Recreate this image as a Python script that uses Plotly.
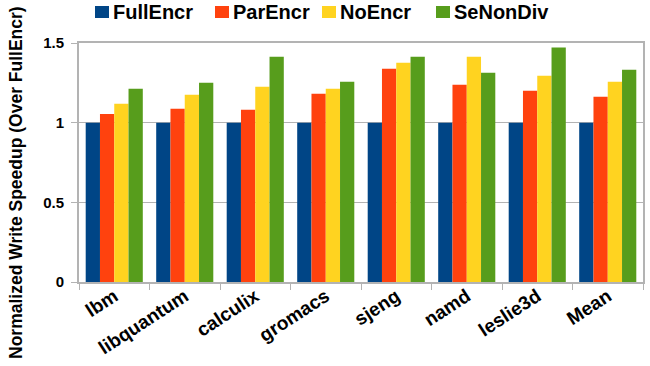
import plotly.graph_objects as go

benchmarks = ["lbm", "libquantum", "calculix", "gromacs", "sjeng", "namd", "leslie3d", "Mean"]
full_encr = [1.0, 1.0, 1.0, 1.0, 1.0, 1.0, 1.0, 1.0]
par_encr = [1.055, 1.087, 1.081, 1.181, 1.339, 1.238, 1.200, 1.162]
no_encr = [1.118, 1.175, 1.225, 1.213, 1.376, 1.414, 1.295, 1.257]
se_non_div = [1.213, 1.250, 1.414, 1.257, 1.414, 1.313, 1.471, 1.332]

series_names = ["FullEncr", "ParEncr", "NoEncr", "SeNonDiv"]
series_values = [full_encr, par_encr, no_encr, se_non_div]
series_colors = ["#004586", "#ff420e", "#ffd320", "#579d1c"]

FONT = "Liberation Sans, Arial, sans-serif"
W, H = 650, 366
ML, MR, MT, MB = 79, 7, 43, 84
PW, PH = W - ML - MR, H - MT - MB


def px_x(px):
    """Convert a pixel column to paper x."""
    return (px - ML) / PW


def px_y(py):
    """Convert a pixel row to paper y."""
    return (H - MB - py) / PH


fig = go.Figure()
for name, vals, color in zip(series_names, series_values, series_colors):
    fig.add_trace(go.Bar(
        name=name, x=benchmarks, y=vals, showlegend=False,
        marker=dict(color=color, line=dict(width=0)),
    ))

# Legend row across the top: a coloured key square followed by the series name
legend_text_left = [113, 233, 340, 454]
shapes, annotations = [], []
for name, color, tx in zip(series_names, series_colors, legend_text_left):
    shapes.append(dict(
        type="rect", xref="paper", yref="paper",
        x0=px_x(tx - 18), x1=px_x(tx - 4), y0=px_y(18), y1=px_y(6),
        fillcolor=color, line=dict(width=0),
    ))
    annotations.append(dict(
        text=name, xref="paper", yref="paper", x=px_x(tx - 2), y=px_y(12),
        xanchor="left", yanchor="middle", showarrow=False,
        font=dict(size=20, family=FONT, weight="bold", color="black"),
    ))

annotations.append(dict(
    text="Normalized Write Speedup (Over FullEncr)", textangle=-90,
    xref="paper", yref="paper", x=px_x(16), y=px_y(183),
    xanchor="center", yanchor="middle", showarrow=False,
    font=dict(size=17.5, family=FONT, weight="bold", color="black"),
))

fig.update_layout(
    width=W, height=H,
    margin=dict(l=ML, r=MR, t=MT, b=MB, autoexpand=False),
    barmode="group", bargap=0.19, bargroupgap=0,
    plot_bgcolor="white", paper_bgcolor="white",
    font=dict(family=FONT, color="black"),
    showlegend=False,
    shapes=shapes, annotations=annotations,
)

fig.update_xaxes(
    tickangle=-33,
    tickfont=dict(size=19, family=FONT, weight="bold"),
    ticks="outside", tickson="boundaries", ticklen=6, tickcolor="#b3b3b3",
    ticklabelstandoff=-6,
    showline=True, linecolor="#b3b3b3", linewidth=2, mirror=True,
    showgrid=False,
)
fig.update_yaxes(
    range=[0, 1.5], tickvals=[0, 0.5, 1, 1.5], ticktext=["0", "0.5", "1", "1.5"],
    tickfont=dict(size=15, family=FONT, weight="bold"),
    ticks="outside", ticklen=6, tickcolor="#b3b3b3", ticklabelstandoff=4,
    showline=True, linecolor="#b3b3b3", linewidth=2, mirror=True,
    showgrid=True, gridcolor="#b3b3b3", gridwidth=1,
    zeroline=False,
)

fig.write_html("out.html")
